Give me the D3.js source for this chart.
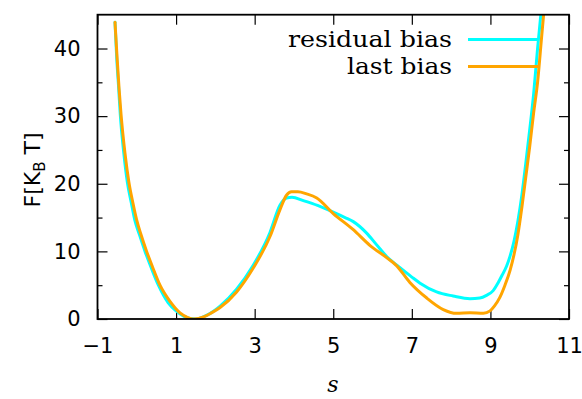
<!DOCTYPE html>
<html>
<head>
<meta charset="utf-8">
<script src="https://cdn.jsdelivr.net/npm/d3@7"></script>
<style>
  html, body { margin: 0; padding: 0; background: #fff; }
  svg { display: block; }
</style>
</head>
<body>
<svg id="chart" width="582" height="399"></svg>
<script>
// ---- data ----
const xTicks = [-1, 1, 3, 5, 7, 9, 11];
const yTicksMajor = [0, 10, 20, 30, 40];
const yTicksMinor = [5, 15, 25, 35];
const seriesNames = ["residual bias", "last bias"];
const seriesColors = ["#00ffff", "#ffa500"];

const sResidual = [-0.555, -0.51, -0.46, -0.42, -0.33, -0.24, -0.14, -0.05, 0.06, 0.21, 0.36, 0.55, 0.80, 1.00, 1.20, 1.50, 1.80, 2.12, 2.54, 2.96, 3.39, 3.64, 3.81, 3.95, 4.24, 4.60, 5.00, 5.30, 5.51, 5.85, 6.10, 6.40, 6.61, 7.00, 7.21, 7.63, 8.05, 8.48, 8.73, 8.90, 9.07, 9.20, 9.30, 9.41, 9.50, 9.60, 9.70, 9.80, 9.90, 10.00, 10.10, 10.20, 10.30, 10.40];
const fResidual = [43.9, 38.5, 34.0, 30.2, 24.5, 20.2, 17.2, 14.6, 12.6, 10.0, 7.7, 5.0, 2.4, 1.2, 0.4, 0.0, 0.6, 1.9, 4.4, 7.9, 12.8, 16.8, 17.9, 18.0, 17.5, 16.8, 15.8, 15.0, 14.4, 12.7, 11.0, 9.0, 8.0, 6.2, 5.3, 4.0, 3.4, 3.0, 3.1, 3.5, 4.2, 5.4, 6.5, 7.8, 9.3, 11.5, 14.5, 18.3, 23.0, 28.0, 33.3, 40.0, 46.0, 52.0];

const sLast = [-0.555, -0.50, -0.45, -0.40, -0.30, -0.20, -0.10, 0.00, 0.10, 0.25, 0.40, 0.59, 0.845, 1.10, 1.30, 1.45, 1.70, 1.90, 2.12, 2.54, 2.96, 3.39, 3.64, 3.81, 3.94, 4.10, 4.32, 4.58, 5.00, 5.51, 5.93, 6.40, 6.61, 6.95, 7.38, 7.80, 8.14, 8.48, 8.82, 8.99, 9.10, 9.24, 9.37, 9.50, 9.60, 9.70, 9.80, 9.90, 10.00, 10.10, 10.20, 10.30, 10.40];
const fLast = [43.9, 38.5, 34.0, 30.2, 24.5, 20.2, 17.2, 14.6, 12.6, 10.0, 7.7, 5.0, 2.6, 0.9, 0.2, 0.0, 0.3, 0.9, 1.7, 4.0, 7.5, 12.2, 16.1, 18.3, 18.8, 18.8, 18.5, 17.9, 15.6, 13.2, 10.9, 8.9, 7.9, 5.4, 3.1, 1.4, 0.84, 0.93, 0.84, 1.2, 1.9, 3.2, 5.0, 7.2, 9.5, 12.5, 16.5, 21.0, 25.5, 30.5, 35.0, 41.5, 48.0];

// ---- layout ----
const svg = d3.select("#chart");
const pL = 97.5, pR = 569, pT = 14.7, pB = 319;
const x = d3.scaleLinear().domain([-1, 11]).range([pL, pR]);
const y = d3.scaleLinear().domain([0, 45]).range([pB, pT]);

svg.append("defs").append("clipPath").attr("id", "clip")
  .append("rect").attr("x", pL).attr("y", pT).attr("width", pR - pL).attr("height", pB - pT);

const tickFont = "DejaVu Sans";

const xAxisB = d3.axisBottom(x).tickValues(xTicks).tickSize(-10).tickPadding(19)
  .tickFormat(d => d < 0 ? "\u2212" + Math.abs(d) : d);
const xAxisT = d3.axisTop(x).tickValues(xTicks).tickSize(-10).tickFormat("");
const yAxisL = d3.axisLeft(y).tickValues(yTicksMajor).tickSize(-10).tickPadding(17);
const yAxisLm = d3.axisLeft(y).tickValues(yTicksMinor).tickSize(-5).tickFormat("");
const yAxisR = d3.axisRight(y).tickValues(yTicksMajor).tickSize(-10).tickFormat("");
const yAxisRm = d3.axisRight(y).tickValues(yTicksMinor).tickSize(-5).tickFormat("");

function style(g) {
  g.select(".domain").remove();
  g.selectAll(".tick line").attr("stroke", "#000").attr("stroke-width", 1.2);
  g.selectAll("text").attr("font-family", tickFont).attr("font-size", 21).attr("fill", "#000");
}
svg.append("g").attr("transform", `translate(0,${pB})`).call(xAxisB).call(style);
svg.append("g").attr("transform", `translate(0,${pT})`).call(xAxisT).call(style);
svg.append("g").attr("transform", `translate(${pL},0)`).call(yAxisL).call(style);
svg.append("g").attr("transform", `translate(${pL},0)`).call(yAxisLm).call(style);
svg.append("g").attr("transform", `translate(${pR},0)`).call(yAxisR).call(style);
svg.append("g").attr("transform", `translate(${pR},0)`).call(yAxisRm).call(style);

const line = d3.line().x(d => x(d[0])).y(d => y(d[1])).curve(d3.curveMonotoneX);
const plot = svg.append("g").attr("clip-path", "url(#clip)");
const series = [d3.zip(sResidual, fResidual), d3.zip(sLast, fLast)];
series.forEach((pts, i) => {
  plot.append("path").datum(pts).attr("d", line)
    .attr("fill", "none").attr("stroke", seriesColors[i]).attr("stroke-width", 3)
    .attr("stroke-linejoin", "round").attr("stroke-linecap", "round");
});

svg.append("rect").attr("x", pL).attr("y", pT).attr("width", pR - pL).attr("height", pB - pT)
  .attr("fill", "none").attr("stroke", "#000").attr("stroke-width", 1.8);

const legY = [39.5, 66.5];
const legW = [164, 105];
seriesNames.forEach((name, i) => {
  svg.append("text").attr("x", 452).attr("y", legY[i] + 7.5)
    .attr("text-anchor", "end").attr("font-family", "DejaVu Serif").attr("font-size", 22)
    .attr("textLength", legW[i]).attr("lengthAdjust", "spacingAndGlyphs")
    .attr("fill", "#000").text(name);
  svg.append("line").attr("x1", 468).attr("x2", 538).attr("y1", legY[i]).attr("y2", legY[i])
    .attr("stroke", seriesColors[i]).attr("stroke-width", 3);
});

svg.append("text").attr("x", 333).attr("y", 392).attr("text-anchor", "middle")
  .attr("font-family", "DejaVu Serif").attr("font-style", "italic").attr("font-size", 22).text("s");
const yl = svg.append("text").attr("transform", "translate(40,170) rotate(-90)")
  .attr("text-anchor", "middle").attr("font-family", tickFont).attr("font-size", 22);
yl.append("tspan").text("F[K");
yl.append("tspan").attr("font-size", 15).attr("dy", 5).text("B");
yl.append("tspan").attr("dy", -5).text(" T]");
</script>
</body>
</html>
